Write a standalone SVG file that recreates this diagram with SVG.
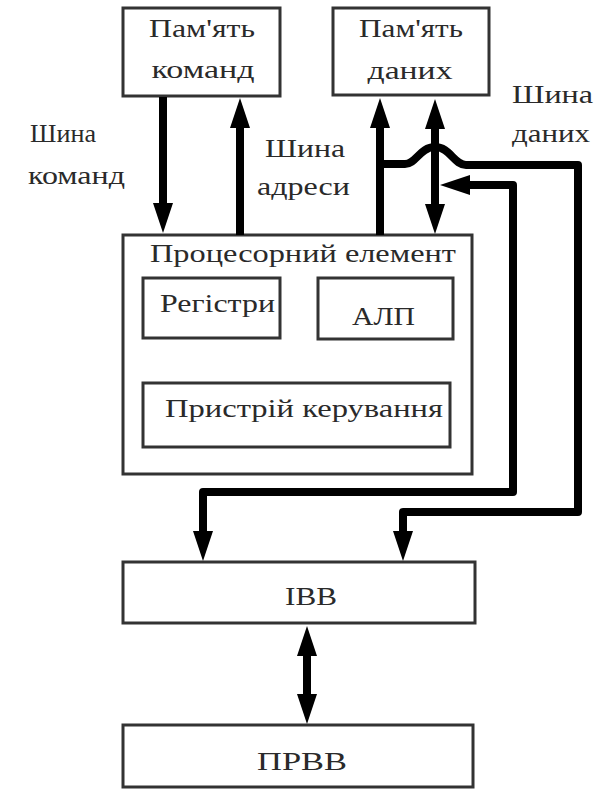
<svg xmlns="http://www.w3.org/2000/svg" width="601" height="789" viewBox="0 0 601 789">
<style>
.box{fill:#fff;stroke:#333;stroke-width:3}
.t{font-family:"Liberation Serif","Times New Roman",serif;font-size:25px;fill:#2a2a2a}
.c{text-anchor:middle}
.bus{fill:none;stroke:#000;stroke-width:8;stroke-linejoin:round}
</style>
<defs>
<marker id="ah" viewBox="0 -10 30 20" refX="1" refY="0" markerWidth="30" markerHeight="20" markerUnits="userSpaceOnUse" orient="auto-start-reverse">
<path d="M0,-10 L30,0 L0,10 z" fill="#000"/>
</marker>
</defs>
<rect width="601" height="789" fill="#fff"/>
<g id="mem-cmd">
<rect class="box" x="123" y="8" width="157" height="88"/>
<text class="t c" x="202" y="37" textLength="106" lengthAdjust="spacingAndGlyphs">Пам'ять</text>
<text class="t c" x="203" y="78" textLength="103" lengthAdjust="spacingAndGlyphs">команд</text>
</g>
<g id="mem-data">
<rect class="box" x="333" y="8" width="156" height="87"/>
<text class="t c" x="411" y="37" textLength="104" lengthAdjust="spacingAndGlyphs">Пам'ять</text>
<text class="t c" x="410" y="79" textLength="85" lengthAdjust="spacingAndGlyphs">даних</text>
</g>
<g id="pe">
<rect class="box" x="123" y="235" width="349" height="239"/>
<text class="t" x="150" y="262" textLength="306" lengthAdjust="spacingAndGlyphs">Процесорний елемент</text>
</g>
<g id="regs">
<rect class="box" x="143" y="278" width="137" height="60"/>
<text class="t" x="160" y="312" textLength="115" lengthAdjust="spacingAndGlyphs">Регістри</text>
</g>
<g id="alu">
<rect class="box" x="318" y="278" width="135" height="61"/>
<text class="t" x="352" y="325" textLength="63" lengthAdjust="spacingAndGlyphs">АЛП</text>
</g>
<g id="cu">
<rect class="box" x="143" y="383" width="307" height="64"/>
<text class="t" x="165" y="417" textLength="278" lengthAdjust="spacingAndGlyphs">Пристрій керування</text>
</g>
<g id="ibb">
<rect class="box" x="123" y="562" width="352" height="61"/>
<text class="t c" x="311" y="605" textLength="52" lengthAdjust="spacingAndGlyphs">IBB</text>
</g>
<g id="prvv">
<rect class="box" x="123" y="725" width="350" height="62"/>
<text class="t c" x="302" y="770" textLength="90" lengthAdjust="spacingAndGlyphs">ПРВВ</text>
</g>
<g id="labels">
<text class="t" x="30" y="142" textLength="66" lengthAdjust="spacingAndGlyphs">Шина</text>
<text class="t" x="28" y="184" textLength="97" lengthAdjust="spacingAndGlyphs">команд</text>
<text class="t" x="265" y="157" textLength="80" lengthAdjust="spacingAndGlyphs">Шина</text>
<text class="t" x="257" y="195" textLength="93" lengthAdjust="spacingAndGlyphs">адреси</text>
<text class="t" x="512" y="103" textLength="81" lengthAdjust="spacingAndGlyphs">Шина</text>
<text class="t" x="512" y="142" textLength="78" lengthAdjust="spacingAndGlyphs">даних</text>
</g>
<g id="connectors">
<path class="bus" d="M163,97 V204" marker-end="url(#ah)"/>
<path class="bus" d="M240,235 V127" marker-end="url(#ah)"/>
<path class="bus" d="M380,235 V127" marker-end="url(#ah)"/>
<path class="bus" d="M435,128 V205" marker-start="url(#ah)" marker-end="url(#ah)"/>
<path class="bus" d="M380,164 H405 C416,164 420,147 435,147 C450,147 454,165 466,165 H578 V512 H403 V532" marker-end="url(#ah)"/>
<path class="bus" d="M203,532 V492 H513 V185 H469" marker-start="url(#ah)" marker-end="url(#ah)"/>
<path class="bus" d="M307,655 V695" marker-start="url(#ah)" marker-end="url(#ah)"/>
</g>
</svg>
